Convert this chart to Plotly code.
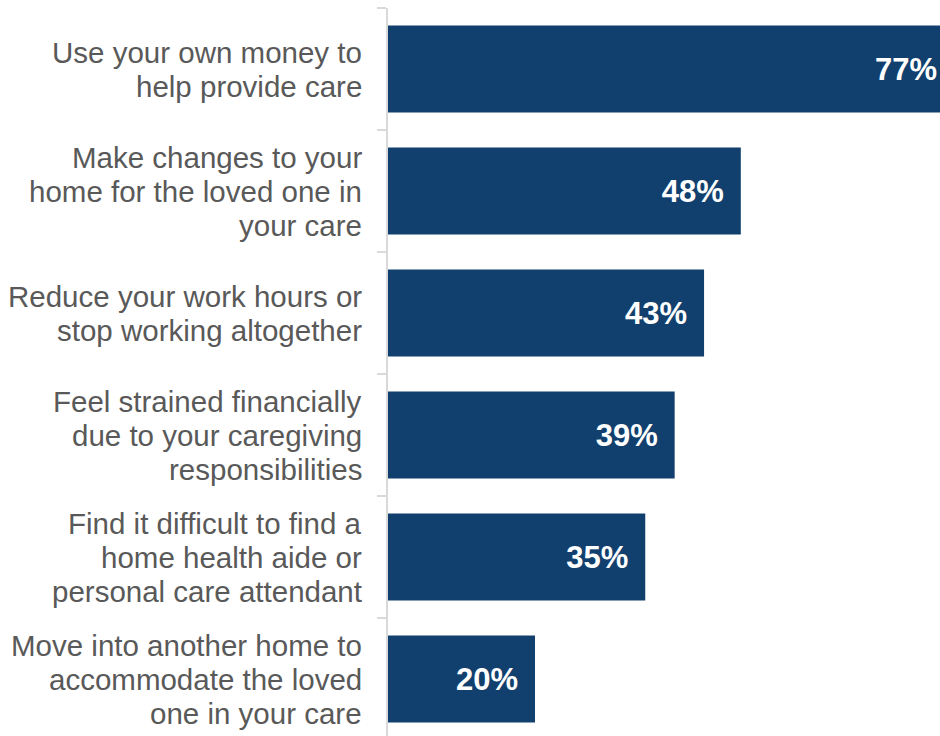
import plotly.graph_objects as go

# Share of caregivers reporting each financial impact
categories = [
    "Use your own money to<br>help provide care",
    "Make changes to your<br>home for the loved one in<br>your care",
    "Reduce your work hours or<br>stop working altogether",
    "Feel strained financially<br>due to your caregiving<br>responsibilities",
    "Find it difficult to find a<br>home health aide or<br>personal care attendant",
    "Move into another home to<br>accommodate the loved<br>one in your care",
]
values = [77, 48, 43, 39, 35, 20]

BAR_COLOR = "#12406E"
LABEL_COLOR = "#595959"
AXIS_COLOR = "#D9D9D9"
FONT = "Liberation Sans, Arial, sans-serif"
LINE_STEP = 34  # px between lines of a category label

fig = go.Figure(
    go.Bar(
        x=values,
        y=categories,
        orientation="h",
        marker=dict(color=BAR_COLOR, line=dict(width=0)),
        texttemplate="<b>%{x}%</b><span style='font-size:25px'>\u00a0\u00a0</span>",
        textposition="inside",
        insidetextanchor="end",
        textangle=0,
        insidetextfont=dict(family=FONT, size=31, color="white"),
        hoverinfo="skip",
    )
)

# Category labels, one annotation per line for tighter line spacing
annotations = []
for cat in categories:
    lines = cat.split("<br>")
    n = len(lines)
    for j, line in enumerate(lines):
        annotations.append(
            dict(
                text=line,
                xref="paper",
                x=0,
                xanchor="right",
                xshift=-24,
                yref="y",
                y=cat,
                yanchor="middle",
                yshift=-(j - (n - 1) / 2) * LINE_STEP,
                showarrow=False,
                font=dict(family=FONT, size=29.5, color=LABEL_COLOR),
            )
        )

fig.update_layout(
    width=940,
    height=736,
    margin=dict(l=388, r=0, t=8, b=0),
    paper_bgcolor="white",
    plot_bgcolor="white",
    bargap=0.287,
    showlegend=False,
    annotations=annotations,
    xaxis=dict(
        range=[0, 75.1],
        visible=False,
        showgrid=False,
        zeroline=False,
        fixedrange=True,
    ),
    yaxis=dict(
        type="category",
        categoryorder="array",
        categoryarray=categories,
        range=[5.467, -0.5],
        showticklabels=False,
        tickson="boundaries",
        ticks="outside",
        ticklen=9,
        tickwidth=2,
        tickcolor=AXIS_COLOR,
        showline=True,
        linecolor=AXIS_COLOR,
        linewidth=2,
        showgrid=False,
        zeroline=False,
        fixedrange=True,
    ),
)

fig.write_html("out.html")
